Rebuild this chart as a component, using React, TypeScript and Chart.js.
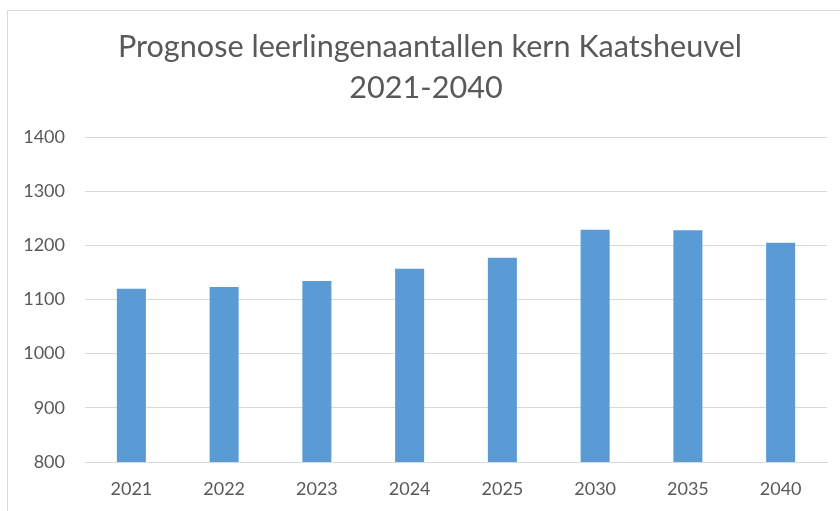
import { useEffect, useRef } from "react";
import { Chart, registerables } from "chart.js";

Chart.register(...registerables);

const categories = ["2021", "2022", "2023", "2024", "2025", "2030", "2035", "2040"];
const values = [1120, 1123, 1134, 1157, 1177, 1229, 1228, 1205];
const titleLines = ["Prognose leerlingenaantallen kern Kaatsheuvel", "2021-2040"];
const yMin = 800;
const yMax = 1400;
const yStep = 100;

const FONT = "Lato";
const TEXT = "#595959";
const GRID = "#d9d9d9";
const BAR = "#5B9BD5";

const framePlugin = {
  id: "frame",
  beforeDraw(chart: any) {
    const ctx = chart.ctx;
    ctx.save();
    ctx.fillStyle = "#ffffff";
    ctx.fillRect(0, 0, chart.width, chart.height);
    ctx.strokeStyle = GRID;
    ctx.lineWidth = 1;
    ctx.strokeRect(7.5, 10.5, chart.width + 50, chart.height + 50);
    ctx.restore();
  },
};

const titlePlugin = {
  id: "twoLineTitle",
  afterDraw(chart: any) {
    const ctx = chart.ctx;
    ctx.save();
    ctx.fillStyle = TEXT;
    ctx.font = `30.6px ${FONT}`;
    ctx.textAlign = "center";
    ctx.textBaseline = "alphabetic";
    ctx.fillText(titleLines[0], 430, 57);
    ctx.fillText(titleLines[1], 426, 98);
    ctx.restore();
  },
};

export default function App() {
  const ref = useRef<HTMLCanvasElement>(null);
  useEffect(() => {
    if (!ref.current) return;
    const chart = new Chart(ref.current, {
      type: "bar",
      data: {
        labels: categories,
        datasets: [
          {
            data: values,
            backgroundColor: BAR,
            borderWidth: 0,
            barPercentage: 0.313,
            categoryPercentage: 1,
          },
        ],
      },
      options: {
        responsive: false,
        animation: false,
        devicePixelRatio: 1,
        layout: { padding: { top: 137, right: 13, bottom: 0, left: 0 } },
        plugins: {
          legend: { display: false },
          title: { display: false },
          tooltip: { enabled: false },
        },
        scales: {
          x: {
            grid: { display: false, drawTicks: false },
            border: { display: true, color: GRID, width: 1 },
            ticks: {
              color: TEXT,
              font: { family: FONT, size: 18 },
              padding: 16,
              maxRotation: 0,
            },
            afterFit(scale: any) {
              scale.height = 49;
            },
          },
          y: {
            min: yMin,
            max: yMax,
            grid: { color: GRID, lineWidth: 1, drawTicks: false },
            border: { display: false },
            ticks: {
              stepSize: yStep,
              color: TEXT,
              font: { family: FONT, size: 18 },
              padding: 20,
              callback: (v: any) => String(v),
            },
            afterFit(scale: any) {
              scale.width = 85;
            },
          },
        },
      },
      plugins: [framePlugin, titlePlugin],
    });
    return () => chart.destroy();
  }, []);
  return (
    <div style={{ position: "fixed", top: 0, left: 0, width: 840, height: 511 }}>
      <canvas ref={ref} width={840} height={511} style={{ display: "block" }} />
    </div>
  );
}
